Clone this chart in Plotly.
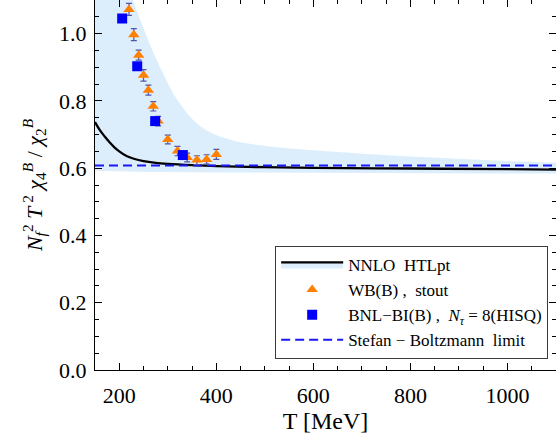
import plotly.graph_objects as go

# ---- data ----
T_wb = [220, 230, 240, 250, 260, 270, 280, 300, 320, 340, 360, 380, 400]
chi_wb = [1.072, 0.997, 0.936, 0.876, 0.832, 0.784, 0.740, 0.685, 0.651, 0.632, 0.624, 0.626, 0.641]
err_wb = [0.018, 0.018, 0.015, 0.017, 0.015, 0.014, 0.014, 0.013, 0.014, 0.013, 0.013, 0.014, 0.015]

T_bnl = [206, 237, 274, 331]
chi_bnl = [1.045, 0.903, 0.740, 0.639]

T_htl = [150, 160, 170, 180, 190, 200, 215, 230, 250, 275, 300, 350, 400, 500, 600, 800, 1000, 1100]
chi_htl = [0.737, 0.713, 0.694, 0.677, 0.662, 0.650, 0.636, 0.628, 0.621, 0.616, 0.613, 0.609,
           0.606, 0.603, 0.601, 0.599, 0.597, 0.596]

T_band = [150, 175, 200, 228, 257, 285, 321, 367, 420, 490, 600, 700, 820, 950, 1100]
band_hi = [1.52, 1.36, 1.22, 1.10, 0.99, 0.897, 0.80, 0.725, 0.688, 0.668, 0.653, 0.643, 0.633, 0.624, 0.616]
band_lo = [0.592, 0.591, 0.590, 0.590, 0.589, 0.589, 0.588, 0.588, 0.587, 0.587, 0.586, 0.585, 0.585, 0.584, 0.584]

T_sb = [150, 1100]
chi_sb = [0.608, 0.608]

x_ticks = [200, 400, 600, 800, 1000]
y_ticks = [0.0, 0.2, 0.4, 0.6, 0.8, 1.0]

BAND = "rgb(220,237,252)"
SERIF = "'Liberation Serif', 'Times New Roman', serif"

fig = go.Figure()

# uncertainty band
fig.add_trace(go.Scatter(x=T_band, y=band_lo, mode="lines", line=dict(width=0, color=BAND),
                         showlegend=False, hoverinfo="skip"))
fig.add_trace(go.Scatter(x=T_band, y=band_hi, mode="lines", line=dict(width=0, color=BAND, shape="spline"),
                         fill="tonexty", fillcolor=BAND, showlegend=False, hoverinfo="skip"))

# central HTLpt curve (zero-area fill gives the band swatch in the legend)
fig.add_trace(go.Scatter(x=T_htl, y=chi_htl, mode="lines", line=dict(width=0, color=BAND),
                         showlegend=False, hoverinfo="skip"))
fig.add_trace(go.Scatter(x=T_htl, y=chi_htl, mode="lines", name="NNLO  HTLpt",
                         line=dict(color="black", width=2.3, shape="spline"),
                         fill="tonexty", fillcolor=BAND,
                         legendgroup="a", legendrank=1))

# Stefan-Boltzmann limit
fig.add_trace(go.Scatter(x=T_sb, y=chi_sb, mode="lines", name="Stefan \u2212 Boltzmann  limit",
                         line=dict(color="rgb(25,25,245)", width=2, dash="9px,5px"),
                         legendgroup="d", legendrank=4))

# WB data
fig.add_trace(go.Scatter(x=T_wb, y=chi_wb, mode="markers", name="WB(B) ,  stout",
                         marker=dict(symbol="triangle-up", size=10, color="rgb(255,128,0)",
                                     line=dict(width=0)),
                         error_y=dict(type="data", array=err_wb, color="rgb(85,85,165)",
                                      thickness=1.2, width=3),
                         legendgroup="b", legendrank=2))

# BNL-BI data
fig.add_trace(go.Scatter(x=T_bnl, y=chi_bnl, mode="markers",
                         name="BNL\u2212BI(B) ,  <i>N</i><sub><i>\u03c4</i></sub> = 8(HISQ)",
                         marker=dict(symbol="square", size=10, color="rgb(0,0,250)", line=dict(width=0)),
                         legendgroup="c", legendrank=3))

axis_common = dict(
    showline=True, linecolor="black", linewidth=1.3, mirror="allticks",
    ticks="inside", ticklen=7, tickwidth=1.2, tickcolor="black",
    showgrid=False, zeroline=False,
    tickfont=dict(family=SERIF, size=22, color="black"),
)

fig.update_layout(
    width=556, height=446,
    margin=dict(l=95, r=0, t=0, b=76, autoexpand=False),
    paper_bgcolor="white", plot_bgcolor="white",
    font=dict(family=SERIF, color="black"),
    xaxis=dict(range=[150, 1100], tickvals=x_ticks, ticklabelstandoff=5,
               minor=dict(dtick=50, tick0=0, ticks="inside", ticklen=4, tickcolor="black", tickwidth=1),
               title=dict(text="T [MeV]", font=dict(family=SERIF, size=24), standoff=4),
               **axis_common),
    yaxis=dict(range=[0, 1.1], tickvals=y_ticks, tickformat=".1f", ticklabelstandoff=3,
               minor=dict(dtick=0.05, tick0=0, ticks="inside", ticklen=4, tickcolor="black", tickwidth=1),
               title=dict(text="<i>N</i><sub><i>f</i></sub><sup>2</sup> <i>T</i><sup> 2</sup> "
                               "<i>\u03c7</i><sub>4</sub><sup><i>B</i></sup> / "
                               "<i>\u03c7</i><sub>2</sub><sup><i>B</i></sup>",
                          font=dict(family=SERIF, size=22), standoff=10),
               **axis_common),
    legend=dict(x=0.983, y=0.03, xanchor="right", yanchor="bottom",
                bgcolor="white", bordercolor="rgb(60,60,60)", borderwidth=1,
                font=dict(family=SERIF, size=17, color="black"),
                traceorder="grouped", tracegroupgap=0, itemwidth=62),
    showlegend=True,
)

fig.write_html("out.html")
